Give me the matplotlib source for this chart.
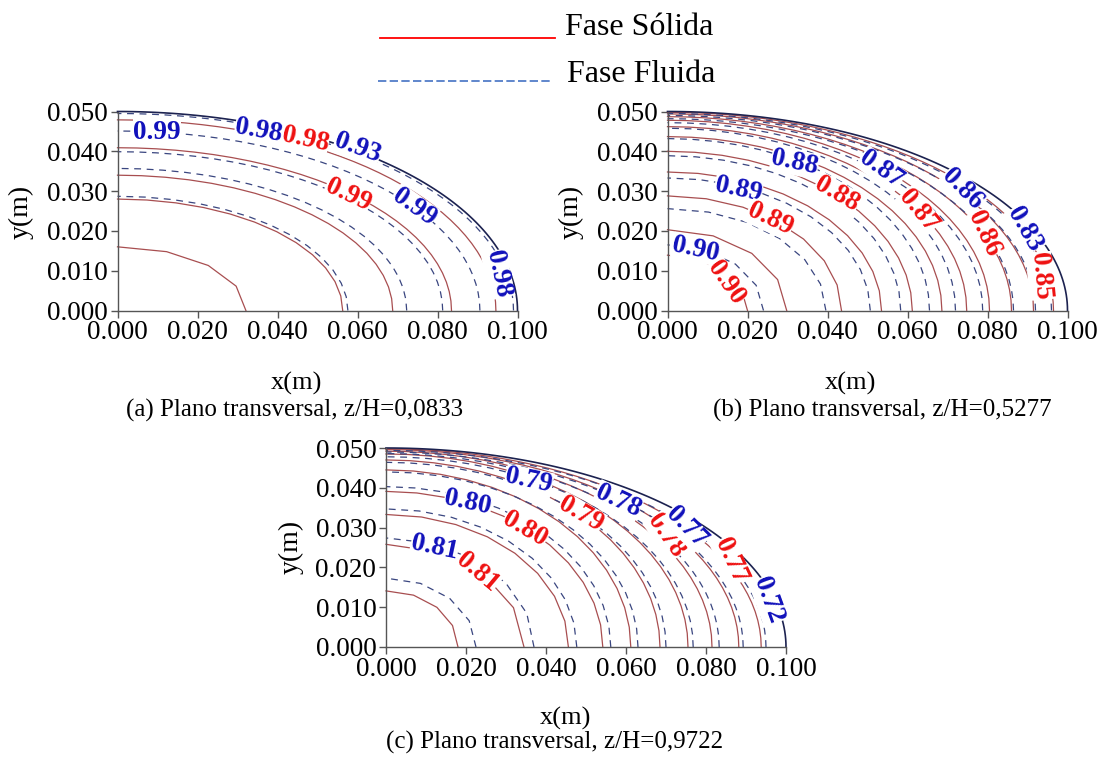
import numpy as np
import matplotlib.pyplot as plt
from matplotlib.lines import Line2D
from matplotlib.ticker import FormatStrFormatter

plt.rcParams['font.family'] = ['Liberation Serif', 'DejaVu Serif']

# contour intercepts (x on y=0, y on x=0), metres
# (a) z/H = 0,0833
a_solid_x = [0.0321, 0.0563, 0.0688, 0.0835, 0.0946]
a_solid_y = [0.0160, 0.0280, 0.0340, 0.0409, 0.0479]
a_fluid_x = [0.0576, 0.0723, 0.0813, 0.0906, 0.0990]
a_fluid_y = [0.0287, 0.0357, 0.0399, 0.0451, 0.0495]
a_labels = ['0.99', '0.98', '0.98', '0.93', '0.99', '0.99', '0.98']
a_phase = ['f', 'f', 's', 'f', 's', 'f', 'f']

# (b) z/H = 0,5277
b_solid_x = [0.0200, 0.0298, 0.0435, 0.0535, 0.0612, 0.0686, 0.0748, 0.0805,
             0.0860, 0.0915, 0.0965]
b_solid_y = [0.0139, 0.0203, 0.0288, 0.0348, 0.0400, 0.0437, 0.0462, 0.0478,
             0.0487, 0.0494, 0.0498]
b_fluid_x = [0.0240, 0.0396, 0.0507, 0.0583, 0.0655, 0.0720, 0.0788, 0.0865,
             0.0920, 0.0960]
b_fluid_y = [0.0165, 0.0256, 0.0333, 0.0389, 0.0432, 0.0458, 0.0472, 0.0482,
             0.0490, 0.0495]
b_labels = ['0.90', '0.90', '0.89', '0.89', '0.88', '0.88', '0.87', '0.87',
            '0.86', '0.86', '0.83', '0.85']
b_phase = ['f', 's', 'f', 's', 'f', 's', 'f', 's', 'f', 's', 'f', 's']

# (c) z/H = 0,9722
c_solid_x = [0.0180, 0.0345, 0.0456, 0.0542, 0.0612, 0.0685, 0.0755, 0.0815,
             0.0882, 0.0938]
c_solid_y = [0.0141, 0.0258, 0.0333, 0.0391, 0.0445, 0.0470, 0.0485, 0.0492,
             0.0496, 0.0498]
c_fluid_x = [0.0225, 0.0370, 0.0477, 0.0562, 0.0630, 0.0700, 0.0768, 0.0833,
             0.0893, 0.0950]
c_fluid_y = [0.0173, 0.0274, 0.0347, 0.0403, 0.0440, 0.0464, 0.0478, 0.0486,
             0.0490, 0.0494]
c_labels = ['0.81', '0.81', '0.80', '0.80', '0.79', '0.79', '0.78', '0.78',
            '0.77', '0.77', '0.72']
c_phase = ['f', 's', 'f', 's', 'f', 's', 'f', 's', 'f', 's', 'f']

# label placement (x, y, rotation)
a_pos = [(0.0098, 0.0448, 0), (0.0353, 0.0452, -10), (0.0469, 0.0430, -12),
         (0.0600, 0.0408, -20), (0.0576, 0.0290, -25), (0.0741, 0.0260, -35),
         (0.0951, 0.0091, -78)]
b_pos = [(0.0071, 0.0154, -12), (0.0146, 0.0070, -55), (0.0177, 0.0305, -12),
         (0.0256, 0.0229, -25), (0.0318, 0.0372, -12), (0.0424, 0.0292, -30),
         (0.0534, 0.0355, -35), (0.0627, 0.0250, -50), (0.0738, 0.0305, -45),
         (0.0790, 0.0192, -65), (0.0892, 0.0204, -60), (0.0932, 0.0087, -85)]
c_pos = [(0.0121, 0.0250, -12), (0.0228, 0.0188, -40), (0.0205, 0.0363, -12),
         (0.0348, 0.0296, -30), (0.0357, 0.0417, -12), (0.0487, 0.0333, -30),
         (0.0580, 0.0367, -25), (0.0701, 0.0279, -55), (0.0750, 0.0300, -45),
         (0.0862, 0.0217, -65), (0.0955, 0.0117, -70)]

solid_col = '#a84e50'
fluid_col = '#3a4680'
edge_col = '#1c2250'


def quarter(a, b):
    # coarse mesh look for the small inner rings
    n = max(4, int(a * a * 4000))
    t = np.linspace(0, np.pi / 2, n + 1)
    return a * np.cos(t), b * np.sin(t)


def panel(ax, sx, sy, fx, fy, labels, phase, pos):
    for a, b in zip(sx, sy):
        x, y = quarter(a, b)
        ax.plot(x, y, color=solid_col, lw=0.9, clip_on=False)
    for a, b in zip(fx, fy):
        x, y = quarter(a, b)
        ax.plot(x, y, color=fluid_col, lw=0.9, dashes=(5.5, 4.5), clip_on=False)
    t = np.linspace(0, np.pi / 2, 80)
    ax.plot(0.1 * np.cos(t), 0.05 * np.sin(t), color=edge_col, lw=1.2,
            clip_on=False)
    for lab, ph, (x, y, r) in zip(labels, phase, pos):
        ax.text(x, y, lab, color='#ee1111' if ph == 's' else '#1111bb',
                fontsize=19.5, fontweight='bold', rotation=r,
                rotation_mode='anchor', ha='center', va='center',
                bbox=dict(facecolor='white', edgecolor='none', pad=0.1))
    ax.set_xlim(0, 0.1)
    ax.set_ylim(0, 0.05)
    ax.set_xticks([0, 0.02, 0.04, 0.06, 0.08, 0.1])
    ax.set_yticks([0, 0.01, 0.02, 0.03, 0.04, 0.05])
    ax.xaxis.set_major_formatter(FormatStrFormatter('%.3f'))
    ax.yaxis.set_major_formatter(FormatStrFormatter('%.3f'))
    for s in ['top', 'right']:
        ax.spines[s].set_visible(False)
    for s in ['left', 'bottom']:
        ax.spines[s].set_color('#555555')
        ax.spines[s].set_linewidth(1.0)
    ax.tick_params(direction='out', length=5, width=1, color='#555555',
                   labelsize=19.5, pad=2)


fig = plt.figure(figsize=(11.05, 7.58), dpi=100)
W, H = 1105, 758
ax_a = fig.add_axes([117.5 / W, 1 - 310.5 / H, 400 / W, 199 / H])
ax_b = fig.add_axes([667.5 / W, 1 - 310.5 / H, 400 / W, 199 / H])
ax_c = fig.add_axes([386 / W, 1 - 647 / H, 400 / W, 199 / H])

panel(ax_a, a_solid_x, a_solid_y, a_fluid_x, a_fluid_y, a_labels, a_phase, a_pos)
panel(ax_b, b_solid_x, b_solid_y, b_fluid_x, b_fluid_y, b_labels, b_phase, b_pos)
panel(ax_c, c_solid_x, c_solid_y, c_fluid_x, c_fluid_y, c_labels, c_phase, c_pos)

for xl, yl, xc, yc, cap, xcap, ycap in [
        (296, 383, 21, 212, '(a) Plano transversal, z/H=0,0833', 295, 410),
        (850, 383, 571, 212, '(b) Plano transversal, z/H=0,5277', 882, 410),
        (565, 718, 291, 547, '(c) Plano transversal, z/H=0,9722', 555, 742)]:
    fig.text(xl / W, 1 - yl / H, 'x(m)', fontsize=19, ha='center', va='center')
    fig.text(xc / W, 1 - yc / H, 'y(m)', fontsize=20, rotation=90,
             ha='center', va='center')
    fig.text(xcap / W, 1 - ycap / H, cap, fontsize=18, ha='center',
             va='center')

# legend
fig.add_artist(Line2D([380 / W, 555 / W], [1 - 38 / H, 1 - 38 / H],
                      color='#ff0000', lw=1.3))
fig.add_artist(Line2D([378 / W, 553 / W], [1 - 81 / H, 1 - 81 / H],
                      color='#4472c4', lw=1.2, dashes=(5, 2)))
fig.text(565 / W, 1 - 35 / H, 'Fase Sólida', fontsize=23, va='baseline')
fig.text(567 / W, 1 - 82 / H, 'Fase Fluida', fontsize=23, va='baseline')

fig.savefig('out.png', dpi=100)
